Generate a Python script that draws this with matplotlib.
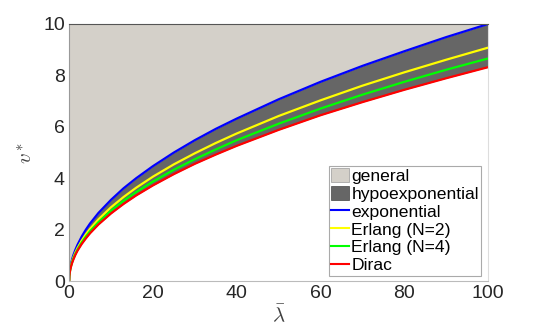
import numpy as np
import matplotlib
matplotlib.use("Agg")
import matplotlib.pyplot as plt
from matplotlib.patches import Patch
from matplotlib.lines import Line2D

# values
lam = [0, 0.05, 0.15, 0.3, 0.5, 0.75, 1, 1.5, 2, 3, 4, 5, 7, 10, 13, 16, 20, 25, 30,
       35, 40, 50, 60, 70, 80, 90, 100]
v_exp = [0, 0.22, 0.39, 0.55, 0.71, 0.87, 1.00, 1.22, 1.41, 1.73, 2.00, 2.24, 2.65,
         3.16, 3.61, 4.00, 4.47, 5.00, 5.48, 5.92, 6.32, 7.07, 7.75, 8.37, 8.94,
         9.49, 10.00]
v_erl2 = [0, 0.20, 0.35, 0.50, 0.64, 0.79, 0.91, 1.11, 1.28, 1.57, 1.82, 2.03, 2.40,
          2.87, 3.27, 3.63, 4.06, 4.54, 4.97, 5.37, 5.74, 6.42, 7.03, 7.60, 8.12,
          8.61, 9.08]
v_erl4 = [0, 0.19, 0.34, 0.47, 0.61, 0.75, 0.87, 1.06, 1.22, 1.50, 1.73, 1.94, 2.29,
          2.74, 3.12, 3.46, 3.87, 4.33, 4.74, 5.12, 5.48, 6.12, 6.71, 7.25, 7.75,
          8.22, 8.66]
v_dirac = [0, 0.19, 0.32, 0.46, 0.59, 0.72, 0.83, 1.02, 1.18, 1.44, 1.66, 1.86, 2.20,
           2.63, 3.00, 3.33, 3.72, 4.16, 4.56, 4.92, 5.26, 5.88, 6.45, 6.96, 7.44,
           7.89, 8.32]
v_top = 10

labels = ["general", "hypoexponential", "exponential", "Erlang (N=2)", "Erlang (N=4)", "Dirac"]
c_general = "#d4d0c9"
c_hypo = "#666666"
line_colors = ["#0000ff", "#ffff00", "#00ff00", "#ff0000"]

plt.rcParams["font.family"] = ["Liberation Sans", "DejaVu Sans"]
plt.rcParams["mathtext.fontset"] = "cm"

fig = plt.figure(figsize=(5.4, 3.33), dpi=100)
ax = fig.add_axes([0.128, 0.156, 0.776, 0.772])

ax.fill_between(lam, v_exp, v_top, color=c_general, lw=0)
ax.fill_between(lam, v_dirac, v_exp, color=c_hypo, lw=0)
for vals, col in zip([v_exp, v_erl2, v_erl4, v_dirac], line_colors):
    ax.plot(lam, vals, color=col, lw=1.6, solid_capstyle="butt")

ax.set_xlim(0, 100)
ax.set_ylim(0, 10)
ax.set_xticks([0, 20, 40, 60, 80, 100])
ax.set_yticks([0, 2, 4, 6, 8, 10])
ax.tick_params(length=0, labelsize=14, colors="#262626", pad=3)
ax.set_xlabel(r"$\bar{\lambda}$", fontsize=15, color="#404040", labelpad=1)
ax.set_ylabel(r"$v^*$", fontsize=15, color="#404040", labelpad=5)

ax.spines["top"].set_color("#555555")
ax.spines["left"].set_color("#999999")
ax.spines["bottom"].set_color("#bbbbbb")
ax.spines["right"].set_color("#dddddd")
for s in ax.spines.values():
    s.set_linewidth(0.8)

handles = [Patch(facecolor=c_general, edgecolor="#999999", lw=0.5),
           Patch(facecolor=c_hypo, edgecolor="#444444", lw=0.5)]
handles += [Line2D([], [], color=c, lw=1.5) for c in line_colors]
leg = ax.legend(handles, labels, loc="lower right", bbox_to_anchor=(0.984, 0.02),
                fontsize=12.6, frameon=True, fancybox=False, framealpha=1,
                edgecolor="#aaaaaa", handlelength=1.0, handleheight=0.85,
                handletextpad=0.15, labelspacing=0.1, borderpad=0.15,
                borderaxespad=0)
leg.get_frame().set_linewidth(0.8)

fig.savefig("out.png", dpi=100)
